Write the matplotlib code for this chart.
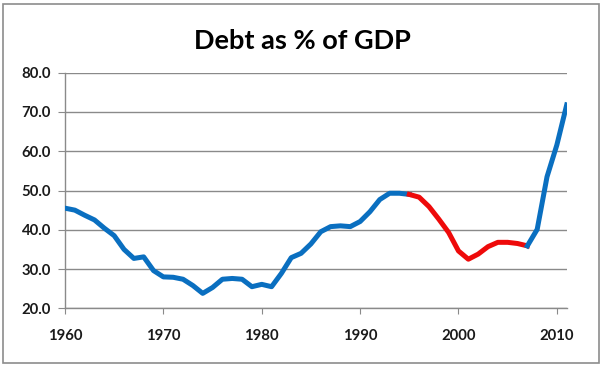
import matplotlib.pyplot as plt
from matplotlib.patches import Rectangle

years = list(range(1960, 2012))
debt = [45.5, 45.0, 43.7, 42.5, 40.4, 38.5, 35.0, 32.7, 33.1, 29.6,
        28.0, 27.9, 27.4, 25.8, 23.8, 25.3, 27.4, 27.6, 27.4, 25.5,
        26.1, 25.5, 28.9, 32.9, 34.0, 36.4, 39.5, 40.8, 41.0, 40.8,
        42.1, 44.6, 47.7, 49.3, 49.3, 49.0, 48.3, 45.9, 42.7, 39.3,
        34.6, 32.5, 33.8, 35.7, 36.8, 36.8, 36.5, 35.9, 40.1, 53.5,
        61.6, 71.8]
red_start = 1995
red_end = 2007

x_ticks = [1960, 1970, 1980, 1990, 2000, 2010]
y_ticks = [20, 30, 40, 50, 60, 70, 80]

plt.rcParams['font.family'] = ['Lato', 'DejaVu Sans']

fig = plt.figure(figsize=(6.04, 3.66), dpi=100)
ax = fig.add_axes([65 / 604, 1 - 308.3 / 366, (566.7 - 65) / 604, (308.3 - 72.7) / 366])

blue = '#0a6fc0'
red = '#ee0a0a'
i0 = years.index(red_start)
i1 = years.index(red_end)
ax.plot(years[:i0 + 1], debt[:i0 + 1], color=blue, lw=3.6, solid_joinstyle='round', zorder=3)
ax.plot(years[i0:i1 + 1], debt[i0:i1 + 1], color=red, lw=3.6, solid_joinstyle='round', zorder=3)
ax.plot(years[i1:], debt[i1:], color=blue, lw=3.6, solid_joinstyle='round', zorder=3)

ax.set_xlim(1960, 2011)
ax.set_ylim(20, 80)
ax.set_xticks(x_ticks)
ax.set_yticks(y_ticks)
ax.set_yticklabels(['%.1f' % v for v in y_ticks])
ax.grid(axis='y', color='#8a8a8a', lw=1)
ax.set_axisbelow(True)

for s in ['top', 'right']:
    ax.spines[s].set_visible(False)
for s in ['left', 'bottom']:
    ax.spines[s].set_color('#8a8a8a')
    ax.spines[s].set_linewidth(1)

ax.tick_params(axis='x', length=4, color='#8a8a8a', pad=11, labelsize=10.7)
ax.tick_params(axis='y', length=5, color='#8a8a8a', pad=5, labelsize=10.7)
for lab in ax.get_xticklabels() + ax.get_yticklabels():
    lab.set_fontweight('bold')
    lab.set_color('#1a1a1a')

fig.text(0.5, 1 - 41 / 366, 'Debt as % of GDP', ha='center', va='center',
         fontsize=19.5, fontweight='bold')

fig.patches.append(Rectangle((2.5 / 604, 3.5 / 366), 596 / 604, 359 / 366,
                             transform=fig.transFigure, fill=False,
                             edgecolor='#8c8c8c', lw=1.2))

fig.savefig('out.png', dpi=100)
